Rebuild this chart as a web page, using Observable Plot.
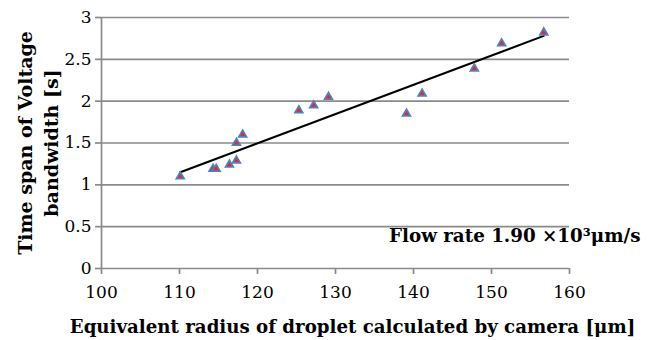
<!DOCTYPE html>
<html>
<head>
<meta charset="utf-8">
<script src="https://cdn.jsdelivr.net/npm/d3@7"></script>
<script src="https://cdn.jsdelivr.net/npm/@observablehq/plot@0.6"></script>
<style>
  html, body { margin: 0; padding: 0; background: #fff; }
  svg { display: block; }
</style>
</head>
<body>
<div id="chart"></div>
<script>
// Equivalent droplet radius measured by camera [μm]
const radius = [110.1, 114.3, 114.7, 116.4, 117.3, 117.3, 118.1, 125.3, 127.2, 129.1, 139.1, 141.1, 147.8, 151.3, 156.7];
// Time span of voltage bandwidth [s]
const span = [1.10, 1.19, 1.19, 1.24, 1.29, 1.50, 1.60, 1.89, 1.95, 2.05, 1.85, 2.09, 2.39, 2.69, 2.82];

const xTicks = [100, 110, 120, 130, 140, 150, 160];
const yTicks = [0, 0.5, 1, 1.5, 2, 2.5, 3];

const xLabel = "Equivalent radius of droplet calculated by camera [μm]";
const yLabelLines = ["Time span of Voltage", "bandwidth [s]"];
const note = "Flow rate 1.90 ×10³μm/s";

const points = radius.map((r, i) => ({r, t: span[i]}));

const serif = "'DejaVu Serif'";
const gray = "#8a8a8a";

const chart = Plot.plot({
  width: 656,
  height: 340,
  marginLeft: 101,
  marginRight: 87,
  marginTop: 17,
  marginBottom: 72,
  style: {fontFamily: serif, fontSize: "17px", color: "#000", background: "#fff"},
  x: {domain: [100, 160], ticks: xTicks},
  y: {domain: [0, 3], ticks: yTicks},
  marks: [
    Plot.ruleY(yTicks.filter(d => d > 0), {stroke: gray, strokeWidth: 1.7}),
    Plot.ruleX([100], {stroke: gray, strokeWidth: 1.7}),
    Plot.ruleY([0], {stroke: gray, strokeWidth: 1.7}),
    Plot.axisY({ticks: yTicks, tickSize: 6, tickPadding: 4, label: null, tickFormat: d => String(d), fontSize: 17}),
    Plot.axisX({ticks: xTicks, tickSize: 6, tickPadding: 11, label: null, fontSize: 17}),
    // least-squares trend line over the measured range
    Plot.linearRegressionY(points, {x: "r", y: "t", stroke: "#000", strokeWidth: 2, ci: 0}),
    Plot.dot(points, {x: "r", y: "t", symbol: "triangle", r: 2.9, fill: "#e8262b", stroke: "#4f81bd", strokeWidth: 1.7}),
    Plot.text([yLabelLines[0]], {frameAnchor: "left", textAnchor: "middle", rotate: -90, dx: -76, text: d => d, fontWeight: "bold", fontSize: 19, lineAnchor: "middle"}),
    Plot.text([yLabelLines[1]], {frameAnchor: "left", textAnchor: "middle", rotate: -90, dx: -50, text: d => d, fontWeight: "bold", fontSize: 19, lineAnchor: "middle"}),
    Plot.text([xLabel], {frameAnchor: "bottom", textAnchor: "middle", dx: 17, dy: 59, text: d => d, fontWeight: "bold", fontSize: 18.2, lineAnchor: "middle"}),
    Plot.text([note], {frameAnchor: "bottom-right", textAnchor: "end", dx: 71, dy: -32, text: d => d, fontWeight: "bold", fontSize: 18.3, lineAnchor: "middle"})
  ]
});

// grey tick marks, black tick labels
d3.select(chart).selectAll('g[aria-label="y-axis tick"], g[aria-label="x-axis tick"]')
  .attr("stroke", gray).attr("stroke-width", 1.7);

document.getElementById("chart").append(chart);
</script>
</body>
</html>
